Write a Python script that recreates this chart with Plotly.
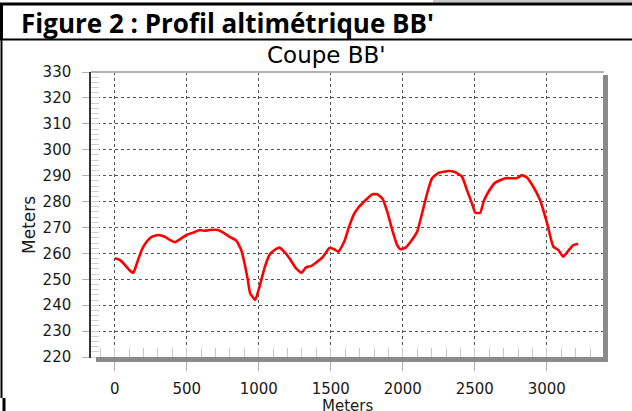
import plotly.graph_objects as go

# ---- data ----
distance_m = [0, 37, 71, 101, 129, 152, 187, 221, 256, 302, 348, 382, 417, 452, 498, 544,
              590, 624, 659, 717, 751, 797, 844, 878, 901, 924, 940, 975, 1005, 1039, 1074,
              1109, 1143, 1178, 1213, 1259, 1297, 1328, 1362, 1397, 1443, 1489, 1524, 1553,
              1593, 1627, 1662, 1696, 1719, 1754, 1788, 1823, 1858, 1892, 1927, 1961, 1984,
              2019, 2054, 2100, 2134, 2169, 2203, 2250, 2319, 2365, 2411, 2445, 2480, 2503,
              2538, 2561, 2595, 2642, 2711, 2757, 2791, 2826, 2860, 2906, 2953, 2999, 3045,
              3080, 3114, 3149, 3183, 3218]
elevation_m = [258.1, 257.4, 255.5, 253.6, 252.5, 255.9, 261.3, 264.5, 266.4, 267.1, 266.4,
               265.2, 264.3, 265.4, 267.1, 268.0, 269.0, 268.7, 269.0, 269.0, 268.1, 266.4,
               264.9, 261.3, 256.2, 249.7, 244.6, 242.0, 247.1, 254.2, 259.4, 261.3, 262.2,
               260.6, 258.1, 254.2, 252.5, 254.6, 255.1, 256.4, 258.5, 262.0, 261.6, 260.6,
               264.5, 270.3, 275.2, 278.0, 279.3, 281.2, 282.8, 282.8, 281.2, 276.1, 269.0,
               263.2, 261.6, 262.2, 264.5, 268.4, 275.5, 283.2, 289.0, 291.1, 291.8, 291.3,
               289.6, 284.5, 279.3, 275.7, 275.7, 280.0, 283.8, 287.3, 289.0, 289.0, 289.0,
               290.2, 289.4, 285.7, 280.6, 272.2, 262.6, 261.3, 258.7, 261.0, 263.2, 263.6]

x_ticks = [0, 500, 1000, 1500, 2000, 2500, 3000]
y_ticks = [220, 230, 240, 250, 260, 270, 280, 290, 300, 310, 320, 330]

caption = "Figure 2 : Profil altimétrique BB'"
chart_title = "Coupe BB'"
x_title = "Meters"
y_title = "Meters"

# ---- layout in pixels ----
W, H = 632, 411
L, R, T, B = 91, 603, 72, 357
pw, ph = R - L, B - T


def px(xp):
    return (xp - L) / pw


def py(yp):
    return (B - yp) / ph


fig = go.Figure()
fig.add_trace(go.Scatter(x=distance_m, y=elevation_m, mode="lines",
                         line=dict(color="#ff0000", width=2.6, shape="spline", smoothing=0.4),
                         hoverinfo="skip", showlegend=False))

tickfont = dict(family="DejaVu Sans", size=15, color="#1a1a1a")

fig.update_layout(
    width=W, height=H,
    margin=dict(l=L, r=W - R, t=T, b=H - B, pad=0),
    paper_bgcolor="white", plot_bgcolor="white",
    showlegend=False,
    xaxis=dict(range=[-165, 3390], tickvals=x_ticks, ticktext=[str(v) for v in x_ticks],
               showgrid=True, gridcolor="#555555", griddash="dot", gridwidth=1,
               ticks="outside", ticklen=13, tickcolor="#b0b0b0", tickwidth=1,
               ticklabelstandoff=5,
               minor=dict(dtick=100, tick0=0, ticks="inside", ticklen=9,
                          tickcolor="#c8c8c8", showgrid=False),
               showline=True, linecolor="#333333", linewidth=1, mirror=False,
               zeroline=False, tickfont=tickfont, fixedrange=True),
    yaxis=dict(range=[220, 330], tickvals=y_ticks, ticktext=[str(v) for v in y_ticks],
               showgrid=True, gridcolor="#555555", griddash="dot", gridwidth=1,
               ticks="outside", ticklen=7, tickcolor="#b0b0b0", tickwidth=1,
               ticklabelstandoff=8,
               minor=dict(dtick=2, tick0=220, ticks="inside", ticklen=8,
                          tickcolor="#d0d0d0", showgrid=False),
               showline=True, linecolor="#333333", linewidth=1.5,
               zeroline=False, tickfont=tickfont, fixedrange=True),
)

shapes = []
# chart frame: top light gray border, right/bottom shadow
shapes.append(dict(type="line", xref="paper", yref="paper", x0=px(L), x1=px(R + 1),
                   y0=py(72), y1=py(72), line=dict(color="#b0b0b0", width=2), layer="above"))
shapes.append(dict(type="rect", xref="paper", yref="paper", x0=px(R), x1=px(R + 5),
                   y0=py(B + 5), y1=py(75), fillcolor="#8a8a8a", line=dict(width=0), layer="above"))
shapes.append(dict(type="rect", xref="paper", yref="paper", x0=px(L + 5), x1=px(R + 5),
                   y0=py(B + 5), y1=py(B), fillcolor="#8a8a8a", line=dict(width=0), layer="above"))
# page borders
shapes.append(dict(type="rect", xref="paper", yref="paper", x0=px(433), x1=px(632),
                   y0=py(2.5), y1=py(0), fillcolor="#c8c8c8", line=dict(width=0)))
shapes.append(dict(type="line", xref="paper", yref="paper", x0=px(0), x1=px(632),
                   y0=py(4), y1=py(4), line=dict(color="black", width=3)))
shapes.append(dict(type="line", xref="paper", yref="paper", x0=px(1.5), x1=px(1.5),
                   y0=py(3), y1=py(40), line=dict(color="black", width=3)))
shapes.append(dict(type="line", xref="paper", yref="paper", x0=px(0), x1=px(632),
                   y0=py(39.5), y1=py(39.5), line=dict(color="black", width=2)))
shapes.append(dict(type="line", xref="paper", yref="paper", x0=px(1.5), x1=px(1.5),
                   y0=py(40), y1=py(398), line=dict(color="black", width=2)))
shapes.append(dict(type="line", xref="paper", yref="paper", x0=px(4), x1=px(4),
                   y0=py(398), y1=py(411), line=dict(color="black", width=3)))
fig.update_layout(shapes=shapes)

annotations = [
    dict(text="<b>" + caption + "</b>", xref="paper", yref="paper", x=px(19), y=py(23),
         xanchor="left", yanchor="middle", showarrow=False,
         font=dict(family="Open Sans", size=26, color="black")),
    dict(text=chart_title, xref="paper", yref="paper", x=px(326), y=py(55),
         xanchor="center", yanchor="middle", showarrow=False,
         font=dict(family="DejaVu Sans", size=23, color="black")),
    dict(text=x_title, xref="paper", yref="paper", x=px(347), y=py(395),
         xanchor="center", yanchor="top", showarrow=False,
         font=dict(family="DejaVu Sans", size=15, color="#1a1a1a")),
    dict(text=y_title, xref="paper", yref="paper", x=px(29), y=py(225),
         xanchor="center", yanchor="middle", showarrow=False, textangle=-90,
         font=dict(family="DejaVu Sans", size=17, color="#1a1a1a")),
]
fig.update_layout(annotations=annotations)

fig.write_html("out.html", config={"displayModeBar": False},
               post_script="document.body.style.margin='0';document.body.style.padding='0';"
                           "document.documentElement.style.overflow='hidden';")
